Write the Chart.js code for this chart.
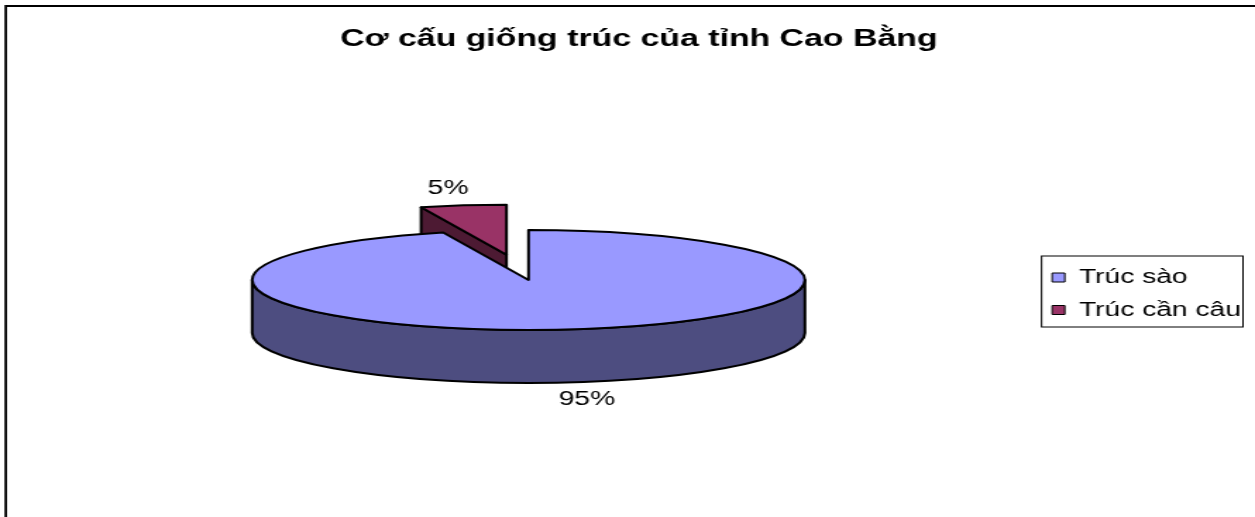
<!DOCTYPE html>
<html>
<head>
<meta charset="utf-8">
<script src="https://cdn.jsdelivr.net/npm/chart.js@4.4.1/dist/chart.umd.min.js"></script>
<style>
  html, body { margin: 0; padding: 0; background: #fff; overflow: hidden; }
  #wrap { position: absolute; left: 0; top: 0; width: 1255px; height: 517px; overflow: hidden; }
  /* the original is an Excel picture stretched sideways, so the canvas is too */
  #pieChart { position: absolute; left: 0; top: 0; transform-origin: 0 0; transform: scaleX(1.41011); }
</style>
</head>
<body>
<div id="wrap"><canvas id="pieChart" width="890" height="517"></canvas></div>
<script>
const titleText = 'Cơ cấu giống trúc của tỉnh Cao Bằng';
const categories = ['Trúc sào', 'Trúc cần câu'];
const shares = [95, 5];

const topColors = ['#9999FF', '#993366'];
const sideColors = ['#4D4D80', '#4D1A33'];

Chart.defaults.font.family = '"Liberation Sans", Arial, sans-serif';
Chart.defaults.color = '#000';

// left and top frame lines (the rest falls outside the picture)
const frame = {
  id: 'frame',
  beforeDraw(chart) {
    const ctx = chart.ctx;
    ctx.save();
    ctx.fillStyle = '#fff';
    ctx.fillRect(0, 0, chart.width, chart.height);
    ctx.strokeStyle = '#000';
    ctx.lineWidth = 1.8;
    ctx.beginPath();
    ctx.moveTo(4.1, chart.height);
    ctx.lineTo(4.1, 6);
    ctx.lineTo(chart.width, 6);
    ctx.stroke();
    ctx.restore();
  }
};

// fake 3D: squash each arc, add its walls, explode slices
const pie3d = {
  id: 'pie3d',
  beforeDatasetsDraw(chart, args, opts) {
    const ctx = chart.ctx;
    const arcs = chart.getDatasetMeta(0).data;
    const k = opts.tilt, depth = opts.depth;
    const midOf = a => (a.startAngle + a.endAngle) / 2;
    const order = arcs.map((a, i) => i).sort((i, j) => Math.sin(midOf(arcs[i])) - Math.sin(midOf(arcs[j])));

    order.forEach(i => {
      const arc = arcs[i];
      const {x, y, startAngle: a0, endAngle: a1, outerRadius: r} = arc;
      const mid = midOf(arc);
      const d = opts.explode[i] || 0;
      const cx = x + Math.cos(mid) * d;
      const cy = y + Math.sin(mid) * d * k;
      const ry = r * k;
      const px = a => cx + Math.cos(a) * r;
      const py = a => cy + Math.sin(a) * ry;

      ctx.save();
      ctx.lineWidth = opts.lineWidth;
      ctx.lineJoin = 'round';
      ctx.strokeStyle = '#000';
      ctx.fillStyle = opts.sideColors[i];

      // cut faces turned towards the viewer
      [[a0, a0 - Math.PI / 2], [a1, a1 + Math.PI / 2]].forEach(([a, n]) => {
        if (Math.sin(n) <= 0.01) return;
        ctx.beginPath();
        ctx.moveTo(cx, cy);
        ctx.lineTo(px(a), py(a));
        ctx.lineTo(px(a), py(a) + depth);
        ctx.lineTo(cx, cy + depth);
        ctx.closePath();
        ctx.fill();
        ctx.stroke();
      });

      // front wall
      const s = Math.max(a0, 0), e = Math.min(a1, Math.PI);
      if (e > s) {
        ctx.beginPath();
        ctx.ellipse(cx, cy, r, ry, 0, s, e);
        ctx.ellipse(cx, cy + depth, r, ry, 0, e, s, true);
        ctx.closePath();
        ctx.fill();
        ctx.stroke();
      }

      // top face, filled by the arc element itself
      ctx.save();
      ctx.translate(cx, cy);
      ctx.scale(1, k);
      ctx.translate(-x, -y);
      arc.draw(ctx);
      ctx.restore();

      ctx.beginPath();
      ctx.moveTo(cx, cy);
      ctx.ellipse(cx, cy, r, ry, 0, a0, a1);
      ctx.closePath();
      ctx.stroke();
      ctx.restore();
    });
    return false;
  }
};

// percentage labels outside the slices
const sliceLabels = {
  id: 'sliceLabels',
  afterDraw(chart) {
    const p = chart.options.plugins.pie3d;
    const ctx = chart.ctx;
    const arcs = chart.getDatasetMeta(0).data;
    const values = chart.data.datasets[0].data;
    const total = values.reduce((s, v) => s + v, 0);
    ctx.save();
    ctx.font = '20px "Liberation Sans", Arial, sans-serif';
    ctx.fillStyle = '#000';
    ctx.textAlign = 'center';
    ctx.textBaseline = 'middle';
    arcs.forEach((arc, i) => {
      const mid = (arc.startAngle + arc.endAngle) / 2;
      const d = (p.explode[i] || 0) + arc.outerRadius * 1.35;
      const lx = arc.x + Math.cos(mid) * d;
      const ly = arc.y + Math.sin(mid) * d * p.tilt + (Math.sin(mid) > 0 ? p.depth : 0);
      ctx.fillText(Math.round(values[i] / total * 100) + '%', lx, ly);
    });
    ctx.restore();
  }
};

// box round the legend
const legendFrame = {
  id: 'legendFrame',
  afterDraw(chart) {
    const boxes = chart.legend.legendHitBoxes;
    if (!boxes || !boxes.length) return;
    const l = Math.min(...boxes.map(b => b.left)) - 7.5;
    const r = Math.max(...boxes.map(b => b.left + b.width)) + 1.5;
    const t = Math.min(...boxes.map(b => b.top)) - 11.5;
    const b = Math.max(...boxes.map(b => b.top + b.height)) + 7;
    const ctx = chart.ctx;
    ctx.save();
    ctx.strokeStyle = '#000';
    ctx.lineWidth = 1;
    ctx.strokeRect(l, t, r - l, b - t);
    ctx.restore();
  }
};

new Chart(document.getElementById('pieChart'), {
  type: 'pie',
  data: {
    labels: categories,
    datasets: [{
      data: shares,
      backgroundColor: topColors,
      borderWidth: 0,
      radius: 196
    }]
  },
  options: {
    responsive: false,
    animation: false,
    devicePixelRatio: 1,
    layout: { padding: { left: 16, right: 0, top: 10, bottom: 18.8 } },
    plugins: {
      title: {
        display: true,
        text: titleText,
        font: { size: 24, weight: 'bold' },
        padding: { top: 15, bottom: 8 }
      },
      legend: {
        position: 'right',
        fullSize: false,
        title: { display: true, text: '', font: { size: 10 }, padding: 7.75 },
        labels: {
          boxWidth: 9,
          boxHeight: 9,
          padding: 12.5,
          font: { size: 20 },
          generateLabels(chart) {
            return Chart.overrides.pie.plugins.legend.labels.generateLabels(chart)
              .map(item => ({ ...item, strokeStyle: '#000', lineWidth: 1 }));
          }
        }
      },
      tooltip: { enabled: false },
      pie3d: {
        tilt: 0.255,
        depth: 53,
        explode: [0, 100],
        sideColors: sideColors,
        lineWidth: 2
      }
    }
  },
  plugins: [frame, pie3d, sliceLabels, legendFrame]
});
</script>
</body>
</html>
